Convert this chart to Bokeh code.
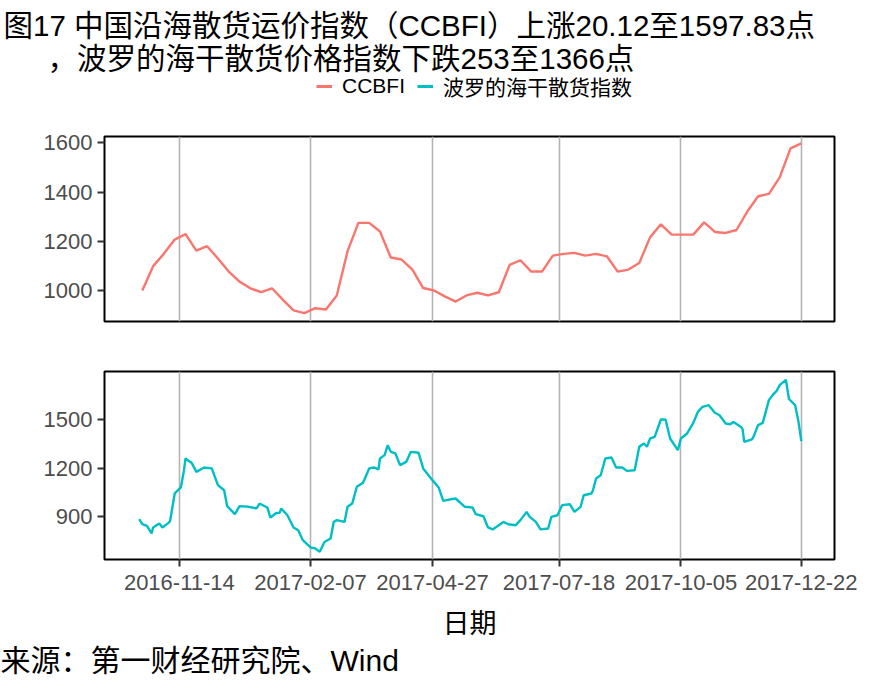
import pandas as pd
from bokeh.plotting import figure
from bokeh.layouts import column
from bokeh.models import (FixedTicker, DatetimeTickFormatter, Legend,
                          LegendItem, Range1d, Title)
from bokeh.embed import file_html
from bokeh.resources import INLINE

# ---------------- data ----------------
title_line1 = "图17 中国沿海散货运价指数（CCBFI）上涨20.12至1597.83点"
title_line2 = "，波罗的海干散货价格指数下跌253至1366点"
series_names = ["CCBFI", "波罗的海干散货指数"]
x_title = "日期"
source_text = "来源：第一财经研究院、Wind"

tick_dates = ["2016-11-14", "2017-02-07", "2017-04-27", "2017-07-18",
              "2017-10-05", "2017-12-22"]
ccbfi_ticks = [1000, 1200, 1400, 1600]
bdi_ticks = [900, 1200, 1500]

# CCBFI, weekly (Fridays) from 2016-10-21 to 2017-12-22
ccbfi_start = "2016-10-21"
ccbfi_values = [1000, 1099, 1150, 1207, 1229, 1162, 1180, 1130, 1077, 1036,
                1009, 993, 1009, 963, 919, 908, 928, 923, 980, 1160,
                1275, 1275, 1240, 1134, 1126, 1085, 1010, 1000, 976, 955,
                980, 991, 980, 993, 1104, 1123, 1077, 1077, 1142, 1149,
                1153, 1142, 1149, 1139, 1077, 1085, 1112, 1216, 1269, 1227,
                1227, 1227, 1277, 1238, 1234, 1246, 1321, 1383, 1393, 1460,
                1577.71, 1597.83]

# Baltic Dry Index
bdi_dates = ["2016-10-19", "2016-10-21", "2016-10-24", "2016-10-27", "2016-10-28",
             "2016-11-01", "2016-11-03", "2016-11-07", "2016-11-08", "2016-11-11",
             "2016-11-15", "2016-11-17", "2016-11-18", "2016-11-22", "2016-11-25",
             "2016-11-30", "2016-12-05", "2016-12-09", "2016-12-13", "2016-12-15",
             "2016-12-20", "2016-12-23", "2016-12-29", "2017-01-03", "2017-01-05",
             "2017-01-09", "2017-01-10", "2017-01-12", "2017-01-16", "2017-01-18",
             "2017-01-19", "2017-01-23", "2017-01-27", "2017-01-30", "2017-02-02",
             "2017-02-07", "2017-02-10", "2017-02-13", "2017-02-16", "2017-02-20",
             "2017-02-22", "2017-02-24", "2017-03-01", "2017-03-03", "2017-03-06",
             "2017-03-09", "2017-03-13", "2017-03-17", "2017-03-20", "2017-03-23",
             "2017-03-24", "2017-03-27", "2017-03-29", "2017-03-31", "2017-04-03",
             "2017-04-06", "2017-04-10", "2017-04-13", "2017-04-18", "2017-04-21",
             "2017-04-27", "2017-05-01", "2017-05-04", "2017-05-08", "2017-05-12",
             "2017-05-18", "2017-05-23", "2017-05-25", "2017-05-30", "2017-06-02",
             "2017-06-05", "2017-06-12", "2017-06-15", "2017-06-20", "2017-06-23",
             "2017-06-27", "2017-06-29", "2017-07-03", "2017-07-06", "2017-07-11",
             "2017-07-13", "2017-07-17", "2017-07-20", "2017-07-25", "2017-07-28",
             "2017-08-01", "2017-08-03", "2017-08-08", "2017-08-09", "2017-08-11",
             "2017-08-14", "2017-08-17", "2017-08-21", "2017-08-24", "2017-08-28",
             "2017-08-31", "2017-09-05", "2017-09-08", "2017-09-11", "2017-09-13",
             "2017-09-15", "2017-09-18", "2017-09-22", "2017-09-25", "2017-09-28",
             "2017-10-03", "2017-10-05", "2017-10-09", "2017-10-13", "2017-10-16",
             "2017-10-19", "2017-10-23", "2017-10-27", "2017-10-30", "2017-11-03",
             "2017-11-06", "2017-11-08", "2017-11-13", "2017-11-14", "2017-11-15",
             "2017-11-20", "2017-11-21", "2017-11-24", "2017-11-27", "2017-12-01",
             "2017-12-04", "2017-12-06", "2017-12-08", "2017-12-12", "2017-12-14",
             "2017-12-18", "2017-12-20", "2017-12-22"]
bdi_values = [886, 855, 845, 798, 835,
              859, 835, 863, 875, 1044,
              1081, 1187, 1259, 1232, 1177,
              1204, 1198, 1095, 1064, 966,
              917, 966, 962, 952, 982,
              962, 958, 896, 925, 925,
              952, 910, 835, 818, 757,
              712, 706, 685, 746, 767,
              869, 880, 869, 962, 982,
              1085, 1110, 1198, 1204, 1192,
              1259, 1280, 1341, 1300, 1290,
              1218, 1238, 1300, 1294, 1198,
              1126, 1081, 998, 1007, 1013,
              962, 958, 917, 904, 835,
              823, 869, 855, 849, 880,
              931, 900, 869, 823, 829,
              900, 910, 972, 978, 931,
              962, 1033, 1044, 1064, 1136,
              1156, 1259, 1265, 1204, 1204,
              1183, 1187, 1331, 1351, 1331,
              1382, 1392, 1499, 1499, 1382,
              1310, 1382, 1413, 1478, 1546,
              1577, 1587, 1540, 1525, 1474,
              1470, 1484, 1453, 1437, 1361,
              1376, 1392, 1464, 1478, 1618,
              1655, 1675, 1710, 1743, 1625,
              1587, 1495, 1366]

# ---------------- styling ----------------
RED = "#F8766D"
TEAL = "#00BFC4"
FONT = "Liberation Sans, Noto Sans CJK SC"
W = 885
HEAD_H = 126
FRAME_L = 104

ccbfi_x = pd.date_range(ccbfi_start, periods=len(ccbfi_values), freq="7D")
bdi_x = pd.to_datetime(bdi_dates)
tick_ms = [int(t.value // 10**6) for t in pd.to_datetime(tick_dates)]

x_range = Range1d(start=pd.Timestamp("2016-09-26 12:00"), end=pd.Timestamp("2018-01-12 12:00"))

# ---------------- header (title + legend) ----------------
head = figure(width=W, height=HEAD_H, x_range=Range1d(0, 1), y_range=Range1d(0, 1),
              toolbar_location=None, output_backend="svg",
              x_axis_location=None, y_axis_location=None,
              min_border=0, min_border_left=FRAME_L, min_border_right=51,
              min_border_top=0, min_border_bottom=0)
head.outline_line_color = None
head.xgrid.grid_line_color = None
head.ygrid.grid_line_color = None
head.background_fill_color = "white"
head.border_fill_color = "white"
head.add_layout(Title(text=title_line2, align="left", offset=47 - FRAME_L,
                      text_font=FONT, text_font_size="29.5px",
                      text_font_style="normal", text_color="black", standoff=-15), "above")
head.add_layout(Title(text=title_line1, align="left", offset=3 - FRAME_L,
                      text_font=FONT, text_font_size="29.5px",
                      text_font_style="normal", text_color="black", standoff=12), "above")
nan = float("nan")
leg_r1 = head.line(x=[nan], y=[nan], line_color=RED, line_width=3)
leg_r2 = head.line(x=[nan], y=[nan], line_color=TEAL, line_width=3)
legend = Legend(items=[LegendItem(label=series_names[0], renderers=[leg_r1]),
                       LegendItem(label=series_names[1], renderers=[leg_r2])],
                orientation="horizontal", location=(316 - FRAME_L, 25),
                padding=0, margin=0, spacing=12, label_standoff=10,
                glyph_width=16, glyph_height=18, label_height=18,
                border_line_color=None, background_fill_alpha=0,
                label_text_font=FONT, label_text_font_size="21px",
                label_text_color="black")
head.add_layout(legend, "center")


def style(p, yticks):
    p.outline_line_color = "black"
    p.outline_line_width = 2
    p.ygrid.grid_line_color = None
    p.xgrid.grid_line_color = "#b3b3b3"
    p.xgrid.grid_line_width = 1.6
    p.xgrid.ticker = FixedTicker(ticks=tick_ms)
    p.yaxis.ticker = FixedTicker(ticks=yticks)
    p.yaxis.axis_line_color = None
    p.yaxis.major_tick_line_color = "#333333"
    p.yaxis.major_tick_line_width = 2
    p.yaxis.major_tick_out = 7
    p.yaxis.major_tick_in = 0
    p.yaxis.minor_tick_line_color = None
    p.yaxis.major_label_text_font = FONT
    p.yaxis.major_label_text_font_size = "22px"
    p.yaxis.major_label_text_color = "#4d4d4d"
    p.yaxis.major_label_standoff = 5
    p.background_fill_color = "white"
    p.border_fill_color = "white"


# ---------------- top panel ----------------
p1 = figure(width=W, height=346 - HEAD_H, x_axis_type="datetime", x_range=x_range,
            y_range=Range1d(874, 1626), toolbar_location=None,
            output_backend="svg", min_border_left=FRAME_L, min_border_right=51,
            min_border_top=136 - HEAD_H, min_border_bottom=25)
style(p1, ccbfi_ticks)
p1.xaxis.visible = False
p1.line(ccbfi_x, ccbfi_values, line_color=RED, line_width=2.4)

# ---------------- bottom panel ----------------
p2 = figure(width=W, height=342, x_axis_type="datetime", x_range=x_range,
            y_range=Range1d(638, 1794), toolbar_location=None,
            output_backend="svg", min_border_left=FRAME_L, min_border_right=51,
            min_border_top=25, min_border_bottom=129)
style(p2, bdi_ticks)
p2.line(bdi_x, bdi_values, line_color=TEAL, line_width=2.4)
p2.xaxis.ticker = FixedTicker(ticks=tick_ms)
fmt = "%Y-%m-%d"
p2.xaxis.formatter = DatetimeTickFormatter(milliseconds=fmt, seconds=fmt, minsec=fmt,
                                           minutes=fmt, hourmin=fmt, hours=fmt,
                                           days=fmt, months=fmt, years=fmt)
p2.xaxis.axis_line_color = None
p2.xaxis.major_tick_line_color = "#333333"
p2.xaxis.major_tick_line_width = 2
p2.xaxis.major_tick_out = 7
p2.xaxis.major_tick_in = 0
p2.xaxis.minor_tick_line_color = None
p2.xaxis.major_label_text_font = FONT
p2.xaxis.major_label_text_font_size = "22px"
p2.xaxis.major_label_text_color = "#4d4d4d"
p2.xaxis.major_label_standoff = 8
p2.xaxis.axis_label = x_title
p2.xaxis.axis_label_text_font = FONT
p2.xaxis.axis_label_text_font_size = "27px"
p2.xaxis.axis_label_text_font_style = "normal"
p2.xaxis.axis_label_text_color = "black"
p2.xaxis.axis_label_standoff = 16

p2.add_layout(Title(text=source_text, align="left", offset=-FRAME_L,
                    text_font=FONT, text_font_size="30px",
                    text_font_style="normal", text_color="black", standoff=0), "below")

layout = column(head, p1, p2, spacing=0)
open("out.html", "w").write(file_html(layout, INLINE))
